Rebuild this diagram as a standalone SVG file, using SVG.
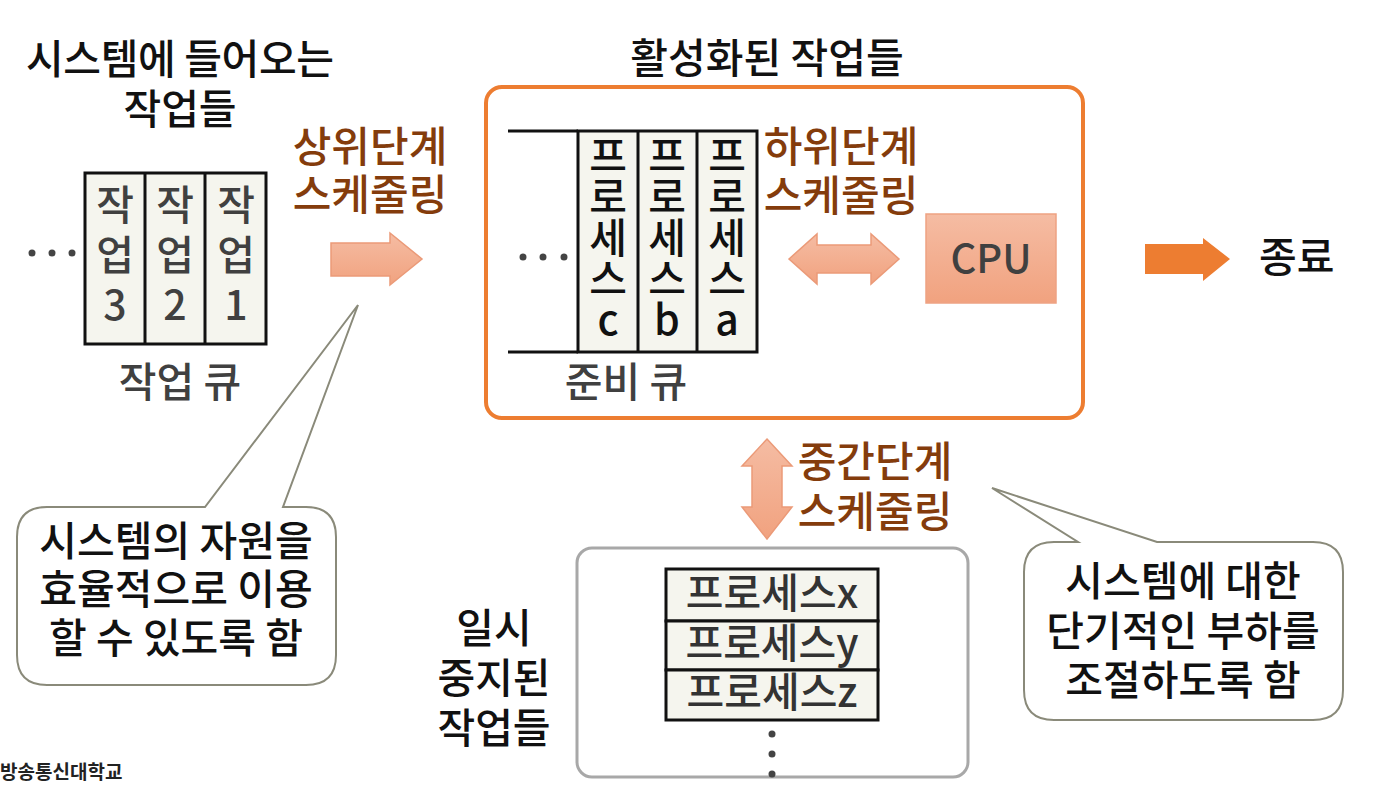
<svg xmlns="http://www.w3.org/2000/svg" width="1384" height="788" viewBox="0 0 1384 788">
  <defs>
    <linearGradient id="peach" x1="0" y1="0" x2="0" y2="1">
      <stop offset="0" stop-color="#f5bca3"/>
      <stop offset="1" stop-color="#f1a27f"/>
    </linearGradient>
    <style>
      text { font-family: "Noto Sans CJK KR", "Noto Sans", sans-serif; font-weight: 500; }
      .t { font-size: 41px; fill: #111; }
      .g { font-size: 41px; fill: #404040; }
      .br { font-size: 42px; fill: #843C0C; }
      .m { text-anchor: middle; }
      .v { writing-mode: vertical-rl; text-orientation: upright; }
      .cell { fill: #f5f5ee; stroke: #111; stroke-width: 3; }
      .ln { stroke: #111; stroke-width: 3; fill: none; }
      .dot { fill: #444; }
      .call { fill: #fff; stroke: #8a8a7a; stroke-width: 2; }
      .pa { fill: url(#peach); stroke: #eb9a78; stroke-width: 1.5; }
    </style>
  </defs>
  <rect width="1384" height="788" fill="#fff"/>

  <!-- incoming jobs -->
  <g id="incoming-title">
    <text class="t m"><tspan x="180" y="74" textLength="308" lengthAdjust="spacing">시스템에 들어오는</tspan><tspan x="180" y="124">작업들</tspan></text>
  </g>

  <g id="job-queue">
    <rect class="cell" x="85" y="173" width="181" height="171"/>
    <line class="ln" x1="145" y1="173" x2="145" y2="344"/>
    <line class="ln" x1="205" y1="173" x2="205" y2="344"/>
    <circle class="dot" cx="32" cy="253" r="3.5"/>
    <circle class="dot" cx="52" cy="253" r="3.5"/>
    <circle class="dot" cx="72" cy="253" r="3.5"/>
    <text class="g v" x="115" y="184" style="letter-spacing:9px">작업3</text>
    <text class="g v" x="175" y="184" style="letter-spacing:9px">작업2</text>
    <text class="g v" x="236" y="184" style="letter-spacing:9px">작업1</text>
    <text class="g m" x="180" y="397">작업 큐</text>
  </g>

  <g id="long-term-label">
    <text class="br m"><tspan x="370" y="162">상위단계</tspan><tspan x="370" y="210">스케줄링</tspan></text>
  </g>

  <!-- active jobs -->
  <g id="active-jobs">
    <text class="t m" x="767" y="73">활성화된 작업들</text>
    <rect x="486" y="87" width="597" height="331" rx="16" fill="none" stroke="#ED7D31" stroke-width="4"/>
  </g>

  <g id="ready-queue">
    <rect class="cell" x="578" y="131" width="179" height="221"/>
    <line class="ln" x1="508" y1="131" x2="578" y2="131"/>
    <line class="ln" x1="508" y1="352" x2="578" y2="352"/>
    <line class="ln" x1="638" y1="131" x2="638" y2="352"/>
    <line class="ln" x1="697" y1="131" x2="697" y2="352"/>
    <circle class="dot" cx="523" cy="257" r="3.5"/>
    <circle class="dot" cx="543" cy="257" r="3.5"/>
    <circle class="dot" cx="564" cy="257" r="3.5"/>
    <text class="t v" x="608" y="135">프로세스c</text>
    <text class="t v" x="667" y="135">프로세스b</text>
    <text class="t v" x="727" y="135">프로세스a</text>
    <text class="g m" x="626" y="397">준비 큐</text>
  </g>

  <g id="short-term-label">
    <text class="br m"><tspan x="841" y="162">하위단계</tspan><tspan x="841" y="211">스케줄링</tspan></text>
  </g>

  <g id="cpu">
    <rect x="926" y="214" width="130" height="89" fill="url(#peach)" stroke="#eea283" stroke-width="1.5"/>
    <text class="g m" x="991" y="273" style="font-size:40px">CPU</text>
  </g>

  <g id="end">
    <text class="t" x="1259" y="272">종료</text>
  </g>

  <g id="medium-term-label">
    <text class="br m"><tspan x="875" y="477">중간단계</tspan><tspan x="875" y="527">스케줄링</tspan></text>
  </g>

  <!-- suspended jobs -->
  <g id="suspended-jobs">
    <text class="t m"><tspan x="494" y="643">일시</tspan><tspan x="494" y="693">중지된</tspan><tspan x="494" y="743">작업들</tspan></text>
    <rect x="577" y="548" width="391" height="229" rx="15" fill="none" stroke="#a8a8a8" stroke-width="3"/>
    <rect class="cell" x="666" y="569" width="212" height="52"/>
    <rect class="cell" x="666" y="621" width="212" height="49"/>
    <rect class="cell" x="666" y="670" width="212" height="50"/>
    <text class="g m" x="772" y="608" style="fill:#333">프로세스x</text>
    <text class="g m" x="772" y="658" style="fill:#333">프로세스y</text>
    <text class="g m" x="772" y="707" style="fill:#333">프로세스z</text>
    <circle class="dot" cx="772" cy="734" r="3.5"/>
    <circle class="dot" cx="772" cy="754" r="3.5"/>
    <circle class="dot" cx="772" cy="774" r="3.5"/>
  </g>

  <!-- callouts -->
  <g id="callout-left">
    <path class="call" d="M 47,507 L 205,507 L 358,305 L 283,507 L 306,507 Q 336,507 336,537 L 336,655 Q 336,685 306,685 L 47,685 Q 17,685 17,655 L 17,537 Q 17,507 47,507 Z"/>
    <text class="t m"><tspan x="176" y="556">시스템의 자원을</tspan><tspan x="176" y="604">효율적으로 이용</tspan><tspan x="176" y="653">할 수 있도록 함</tspan></text>
  </g>

  <g id="callout-right">
    <path class="call" d="M 1054,542 L 1078,542 L 992,488 L 1157,542 L 1313,542 Q 1343,542 1343,572 L 1343,690 Q 1343,720 1313,720 L 1054,720 Q 1024,720 1024,690 L 1024,572 Q 1024,542 1054,542 Z"/>
    <text class="t m"><tspan x="1183" y="596">시스템에 대한</tspan><tspan x="1183" y="646">단기적인 부하를</tspan><tspan x="1183" y="695">조절하도록 함</tspan></text>
  </g>

  <!-- connectors -->
  <g id="connectors">
    <polygon class="pa" points="331,243 390,243 390,233 422,259 390,285 390,276 331,276"/>
    <polygon class="pa" points="789,259 817,234 817,245 871,245 871,234 899,259 871,284 871,273 817,273 817,284"/>
    <polygon class="pa" points="767,439 792,466 782,466 782,507 792,507 767,539 742,507 752,507 752,466 742,466"/>
    <polygon fill="#ED7D31" points="1145,244 1203,244 1203,238 1230,259 1203,281 1203,274 1145,274"/>
  </g>

  <g id="logo">
    <text x="0" y="779" style="font-size:19px; font-weight:bold; fill:#222">방송통신대학교</text>
  </g>
</svg>
